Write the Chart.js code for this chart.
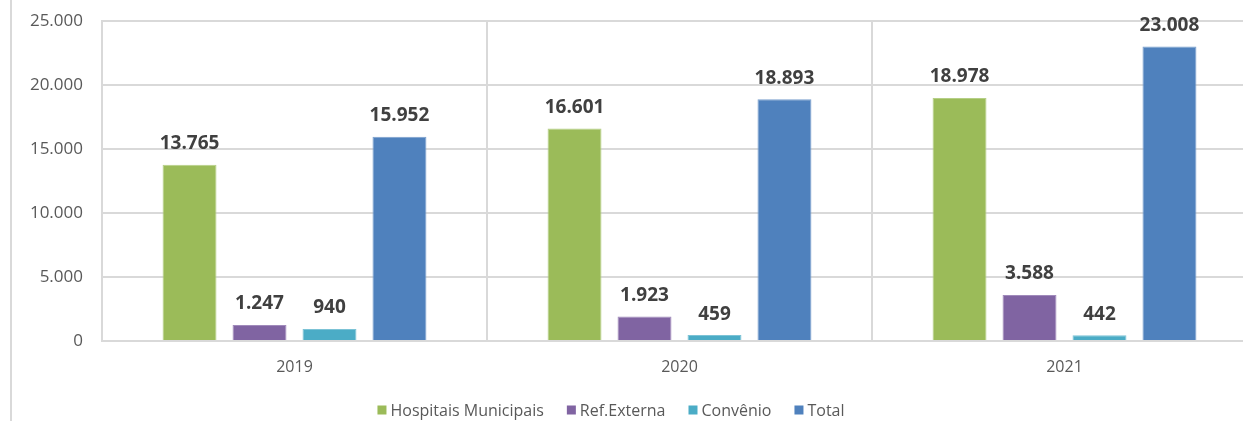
<!DOCTYPE html>
<html lang="pt">
<head>
    <meta charset="UTF-8">
    <title>Atendimentos 2019-2021</title>
    <script src="https://cdn.jsdelivr.net/npm/chart.js@4.4.0/dist/chart.umd.min.js"></script>
    <style>
        html, body { margin: 0; padding: 0; background: #fff; overflow: hidden; }
        .frame { position: absolute; left: 10px; top: 0; width: 2px; height: 421px; background: #d9d9d9; }
        .wrap { position: absolute; left: 0; top: 0; width: 1300px; height: 421px; }
    </style>
</head>
<body>
    <div class="frame"></div>
    <div class="wrap"><canvas id="chart"></canvas></div>

    <script>
        const years = ['2019', '2020', '2021'];
        const hospitaisMunicipais = [13765, 16601, 18978];
        const refExterna = [1247, 1923, 3588];
        const convenio = [940, 459, 442];
        const total = [15952, 18893, 23008];
        const yTicks = [0, 5000, 10000, 15000, 20000, 25000];

        const fmt = v => v.toLocaleString('de-DE');

        // value labels above each bar
        const barLabels = {
            id: 'barLabels',
            afterDatasetsDraw(chart) {
                const ctx = chart.ctx;
                ctx.save();
                ctx.font = 'bold 19px "Open Sans"';
                ctx.fillStyle = '#404040';
                ctx.textAlign = 'center';
                ctx.textBaseline = 'middle';
                chart.data.datasets.forEach((ds, i) => {
                    chart.getDatasetMeta(i).data.forEach((bar, j) => {
                        ctx.fillText(fmt(ds.data[j]), bar.x, bar.y - 21);
                    });
                });
                ctx.restore();
            }
        };

        // legend along the bottom, Excel style (small squares, wide gaps)
        const bottomLegend = {
            id: 'bottomLegend',
            afterDraw(chart) {
                const ctx = chart.ctx;
                const box = 9, gap = 4, spacing = 23, cx = 611, y = 411;
                ctx.save();
                ctx.font = '16px "Open Sans"';
                ctx.textBaseline = 'middle';
                ctx.textAlign = 'left';
                const items = chart.data.datasets.map(ds => ({
                    text: ds.label, color: ds.backgroundColor, w: ctx.measureText(ds.label).width
                }));
                const totalW = items.reduce((s, it) => s + box + gap + it.w, 0) + spacing * (items.length - 1);
                let x = cx - totalW / 2;
                items.forEach(it => {
                    ctx.fillStyle = it.color;
                    ctx.fillRect(x, y - box / 2 - 1, box, box);
                    ctx.fillStyle = '#595959';
                    ctx.fillText(it.text, x + box + gap, y);
                    x += box + gap + it.w + spacing;
                });
                ctx.restore();
            }
        };

        const bar = (label, data, color, border) => ({
            label, data,
            backgroundColor: color,
            borderColor: border,
            borderWidth: 1
        });

        new Chart(document.getElementById('chart'), {
            type: 'bar',
            data: {
                labels: years,
                datasets: [
                    bar('Hospitais Municipais', hospitaisMunicipais, '#9BBB59', '#b5cf86'),
                    bar('Ref.Externa', refExterna, '#8064A2', '#a08abb'),
                    bar('Convênio', convenio, '#4BACC6', '#7cc3d6'),
                    bar('Total', total, '#4F81BD', '#7a9fcd')
                ]
            },
            options: {
                responsive: true,
                maintainAspectRatio: false,
                animation: false,
                datasets: { bar: { categoryPercentage: 0.727, barPercentage: 0.771 } },
                layout: { padding: { top: 21, right: 43, left: 0, bottom: 35 } },
                plugins: {
                    legend: { display: false },
                    tooltip: { enabled: false }
                },
                scales: {
                    x: {
                        afterFit: s => { s.height = 45; },
                        grid: { color: '#d9d9d9', lineWidth: 2, drawTicks: false },
                        border: { color: '#d9d9d9', width: 2 },
                        ticks: {
                            font: { family: '"Open Sans"', size: 16 },
                            color: '#595959',
                            padding: 17
                        }
                    },
                    y: {
                        min: 0,
                        max: 25000,
                        afterFit: s => { s.width = 102; s.paddingTop = 0; s.paddingBottom = 0; },
                        afterBuildTicks: s => { s.ticks = yTicks.map(v => ({ value: v })); },
                        grid: { color: '#d9d9d9', lineWidth: 2, drawTicks: false },
                        border: { color: '#d9d9d9', width: 2 },
                        ticks: {
                            font: { family: '"Open Sans"', size: 17 },
                            color: '#595959',
                            padding: 19,
                            callback: v => fmt(v)
                        }
                    }
                }
            },
            plugins: [barLabels, bottomLegend]
        });
    </script>
</body>
</html>
